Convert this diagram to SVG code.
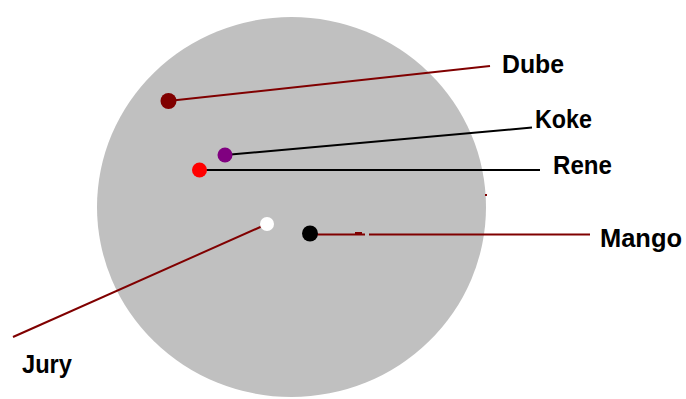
<svg xmlns="http://www.w3.org/2000/svg" width="686" height="399" viewBox="0 0 686 399">
<style>
.lbl{font-family:"Liberation Sans",Arial,sans-serif;font-weight:bold;font-size:25px;fill:#000}
.red{stroke:#800000;stroke-width:2;fill:none}
.blk{stroke:#000;stroke-width:2;fill:none}
</style>
<rect width="686" height="399" fill="#fff"/>
<g id="disc"><ellipse cx="291.5" cy="207" rx="194.5" ry="190" fill="#c0c0c0"/></g>
<g id="connectors">
<line class="red" x1="168" y1="101" x2="490" y2="66"/>
<line class="blk" x1="225" y1="155" x2="532" y2="127.5"/>
<line class="blk" x1="199" y1="170" x2="540" y2="170"/>
<line class="red" x1="310" y1="234.5" x2="365" y2="234.5"/>
<line class="red" x1="369" y1="234.5" x2="590" y2="234.5"/>
<rect x="355" y="232" width="7" height="3" fill="#800000"/>
<line class="red" x1="267" y1="224" x2="13" y2="337"/>
<rect x="485" y="194" width="2" height="2" fill="#800000"/>
</g>
<g id="dube"><circle cx="168.5" cy="101" r="8" fill="#800000"/><text class="lbl" x="502" y="73" textLength="62" lengthAdjust="spacingAndGlyphs">Dube</text></g>
<g id="koke"><circle cx="225" cy="155" r="7.5" fill="#800080"/><text class="lbl" x="535" y="128" textLength="57" lengthAdjust="spacingAndGlyphs">Koke</text></g>
<g id="rene"><circle cx="199.5" cy="170" r="7.5" fill="#ff0000"/><text class="lbl" x="553" y="174" textLength="59" lengthAdjust="spacingAndGlyphs">Rene</text></g>
<g id="jury"><circle cx="267" cy="224" r="7" fill="#ffffff"/><text class="lbl" x="22" y="373" textLength="50" lengthAdjust="spacingAndGlyphs">Jury</text></g>
<g id="mango"><circle cx="310" cy="233.5" r="8" fill="#000000"/><text class="lbl" x="600" y="247" textLength="82" lengthAdjust="spacingAndGlyphs">Mango</text></g>
</svg>
